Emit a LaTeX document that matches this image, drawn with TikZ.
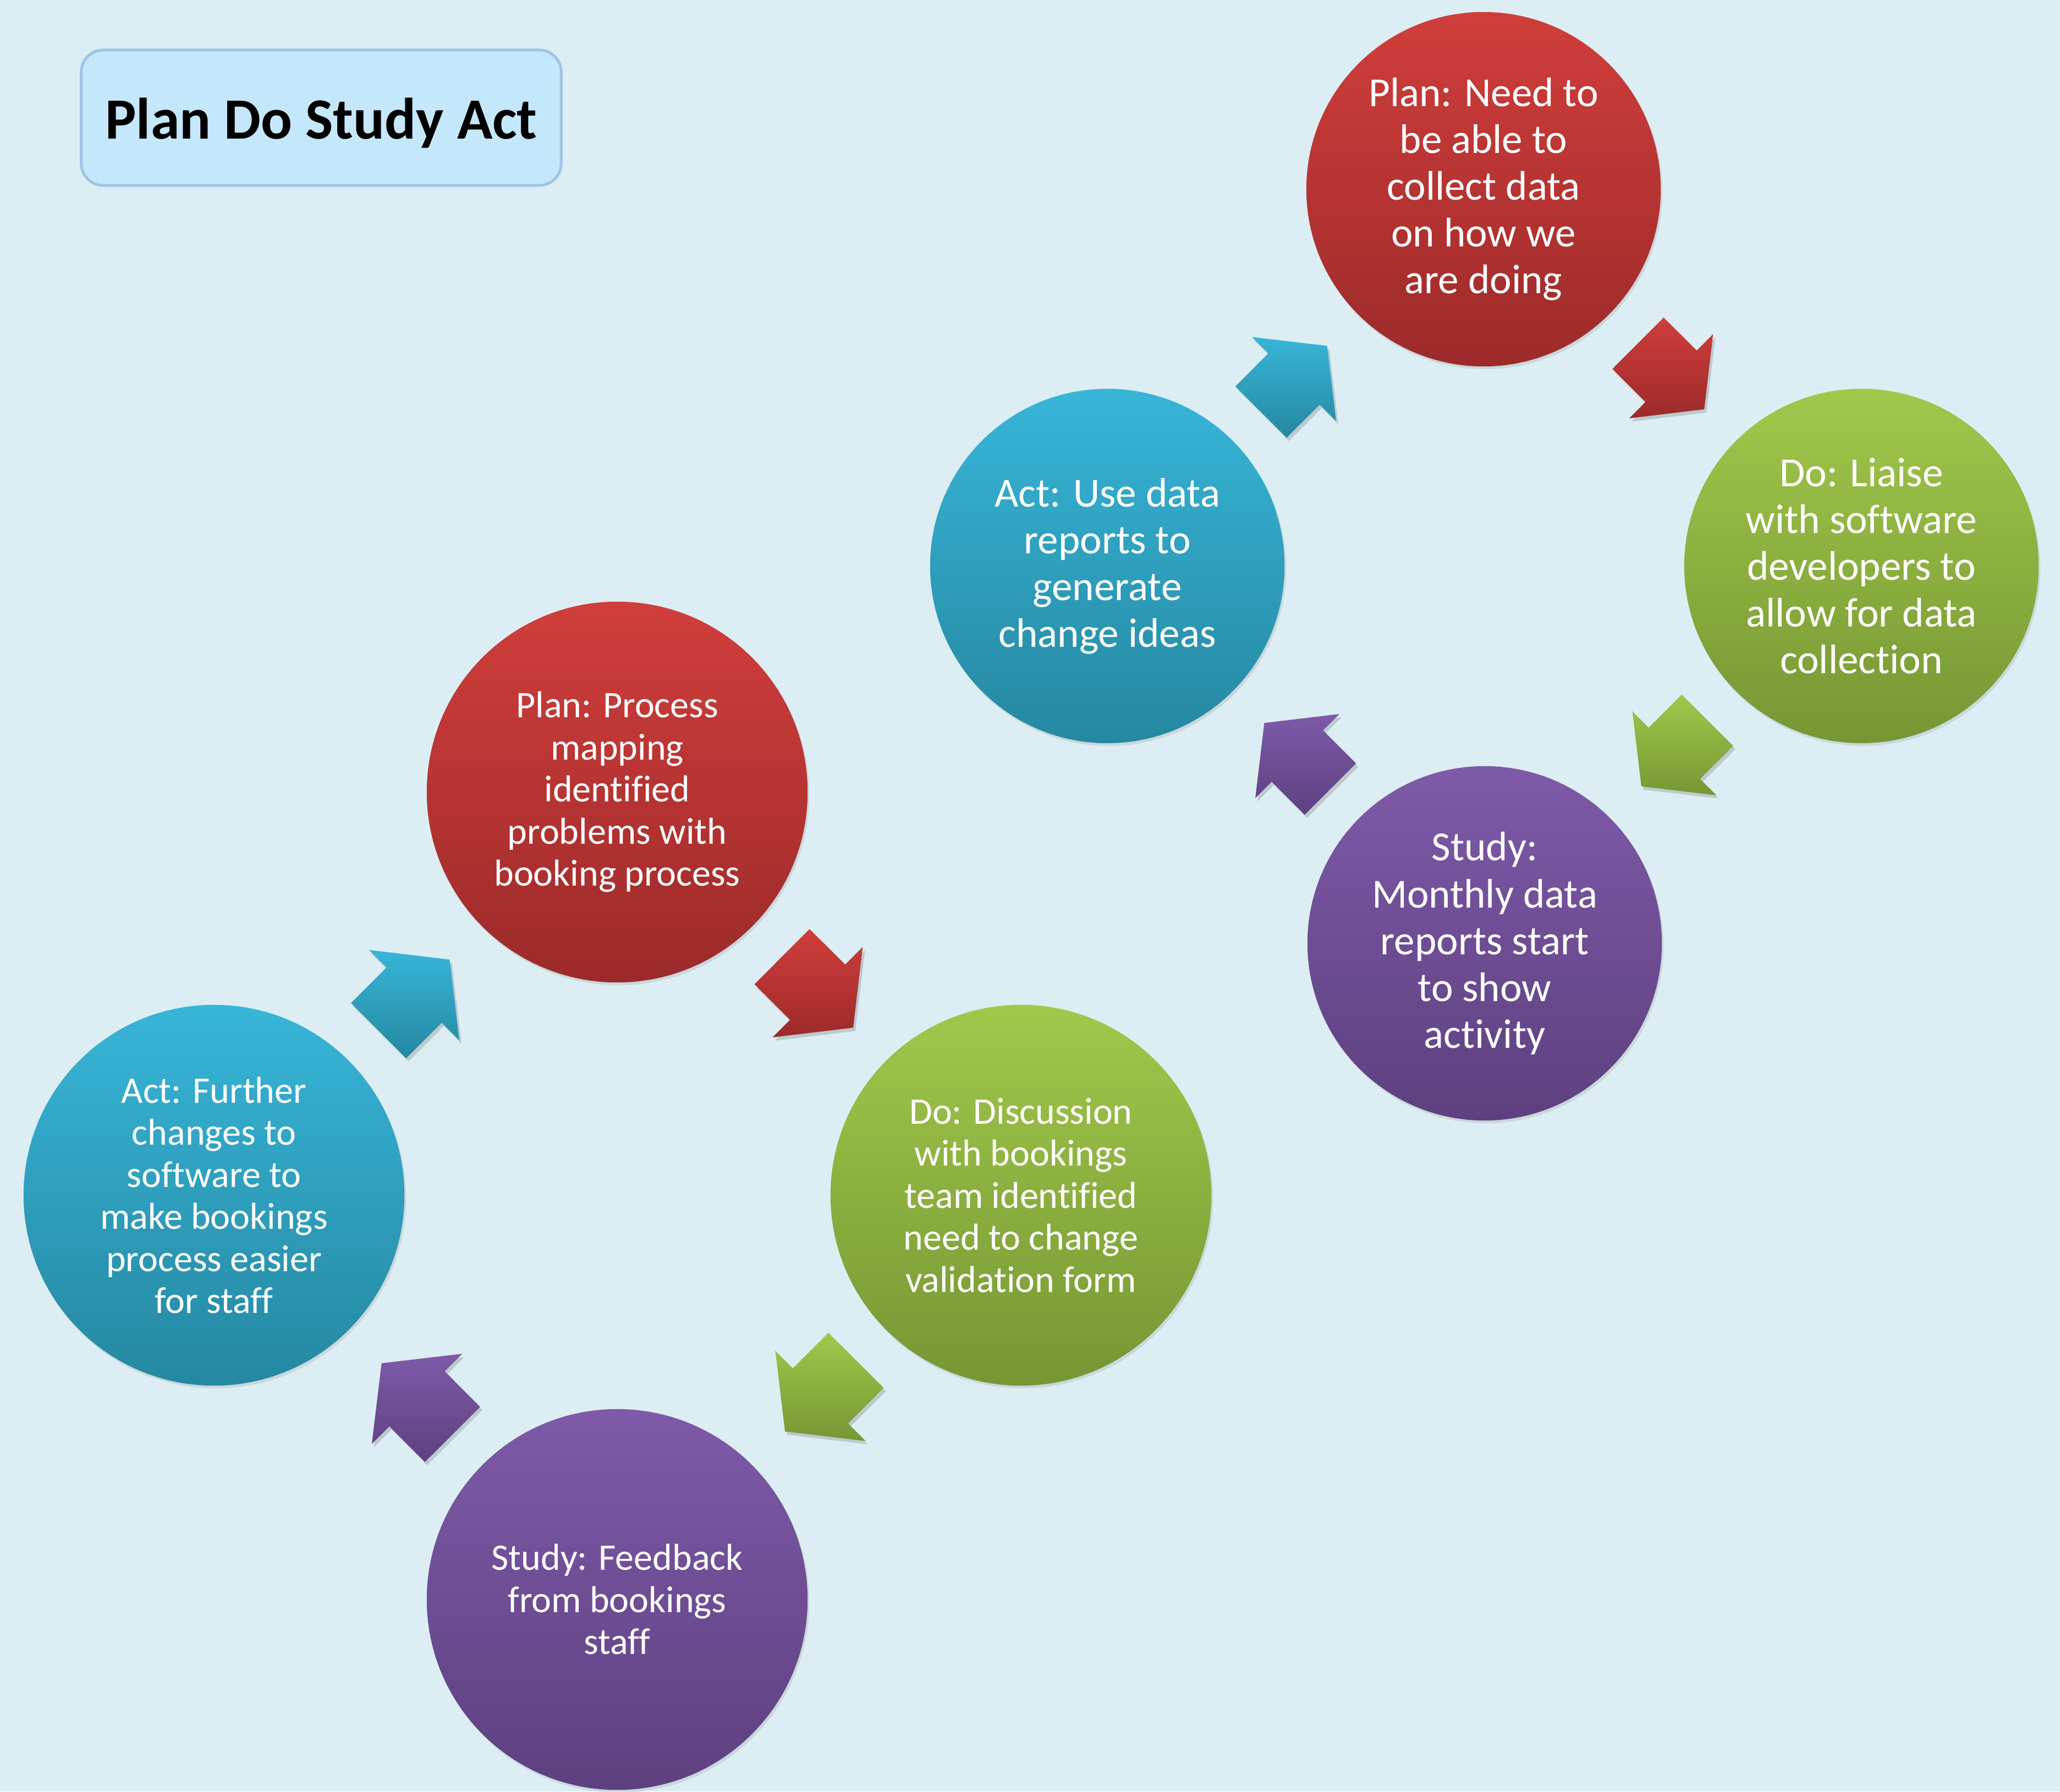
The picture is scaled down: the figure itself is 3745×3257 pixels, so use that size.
\documentclass[tikz,border=0pt]{standalone}
\usepackage{fontspec}
\setmainfont{Carlito}[Ligatures=NoCommon]
\usetikzlibrary{calc,shadows}
\definecolor{bgc}{RGB}{220,238,243}
\definecolor{redT}{RGB}{208,62,59}
\definecolor{redB}{RGB}{156,42,42}
\definecolor{grnT}{RGB}{161,200,75}
\definecolor{grnB}{RGB}{118,150,52}
\definecolor{bluT}{RGB}{56,181,216}
\definecolor{bluB}{RGB}{37,136,161}
\definecolor{purT}{RGB}{126,90,168}
\definecolor{purB}{RGB}{94,64,128}
\definecolor{tfill}{RGB}{197,231,251}
\definecolor{tborder}{RGB}{160,195,230}
% block arrow between two circles: options, from, to, scale
\newcommand\pdsblock[4]{%
  \path[#1] let \p1=(#2.center), \p2=(#3.center),
      \n1={atan2(\y2-\y1,\x2-\x1)}, \p3=($(\p1)!0.5!(\p2)$) in
    ($(\p3)+(\n1-143.3:110.4*#4)$) -- ($(\p3)+(\n1-93.04:66.1*#4)$)
    -- ($(\p3)+(\n1-91.86:108.06*#4)$) -- ($(\p3)+(\n1:81.5*#4)$)
    -- ($(\p3)+(\n1+91.86:108.06*#4)$) -- ($(\p3)+(\n1+93.04:66.1*#4)$)
    -- ($(\p3)+(\n1+143.3:110.4*#4)$) -- cycle;}
\newcommand\pdsarrow[5]{%
  \pdsblock{fill=black,opacity=0.15,transform canvas={xshift=0.04cm,yshift=-0.06cm}}{#1}{#2}{#3}%
  \pdsblock{top color=#4,bottom color=#5}{#1}{#2}{#3}}
\begin{document}
\begin{tikzpicture}[x=0.01cm,y=0.01cm,
  stage/.style={circle, inner sep=0pt, text=white, align=center,
    drop shadow={shadow xshift=0.03cm, shadow yshift=-0.05cm, opacity=0.2}},
  lstage/.style={stage, minimum size=6.92cm, font=\fontsize{19.35}{21.74}\selectfont},
  rstage/.style={stage, minimum size=6.44cm, font=\fontsize{21.34}{24.18}\selectfont},
  plan/.style={top color=redT, bottom color=redB},
  do/.style={top color=grnT, bottom color=grnB},
  study/.style={top color=purT, bottom color=purB},
  act/.style={top color=bluT, bottom color=bluB},
  titlebox/.style={rounded corners=0.4cm, draw=tborder, line width=0.05cm, fill=tfill,
    minimum width=8.72cm, minimum height=2.46cm, inner sep=0pt},
  titletext/.style={font=\bfseries\fontsize{30.2}{36}\selectfont, yshift=-0.1cm}]
\fill[bgc] (0,0) rectangle (3745,-3257);
\useasboundingbox (0,0) rectangle (3745,-3257);

\node[titlebox, label={[titletext]center:Plan Do Study Act}] (title) at (584,-214) {};

% left cycle
\node[lstage, act]   (lact)   at (389,-2173)  {Act: Further\\changes to\\software to\\make bookings\\process easier\\for staff};
\node[lstage, plan]  (lplan)  at (1122,-1440) {Plan: Process\\mapping\\identified\\problems with\\booking process};
\node[lstage, do]    (ldo)    at (1856,-2173) {Do: Discussion\\with bookings\\team identified\\need to change\\validation form};
\node[lstage, study] (lstudy) at (1122,-2908) {Study: Feedback\\from bookings\\staff};

% right cycle
\node[rstage, act]   (ract)   at (2013,-1029) {Act: Use data\\reports to\\generate\\change ideas};
\node[rstage, plan]  (rplan)  at (2697,-344)  {Plan: Need to\\be able to\\collect data\\on how we\\are doing};
\node[rstage, do]    (rdo)    at (3384,-1029) {Do: Liaise\\with software\\developers to\\allow for data\\collection};
\node[rstage, study] (rstudy) at (2699,-1715) {Study:\\Monthly data\\reports start\\to show\\activity};

% arrows
\pdsarrow{lact}{lplan}{1.075}{bluT}{bluB}
\pdsarrow{lplan}{ldo}{1.075}{redT}{redB}
\pdsarrow{ldo}{lstudy}{1.075}{grnT}{grnB}
\pdsarrow{lstudy}{lact}{1.075}{purT}{purB}
\pdsarrow{ract}{rplan}{1}{bluT}{bluB}
\pdsarrow{rplan}{rdo}{1}{redT}{redB}
\pdsarrow{rdo}{rstudy}{1}{grnT}{grnB}
\pdsarrow{rstudy}{ract}{1}{purT}{purB}
\end{tikzpicture}
\end{document}
